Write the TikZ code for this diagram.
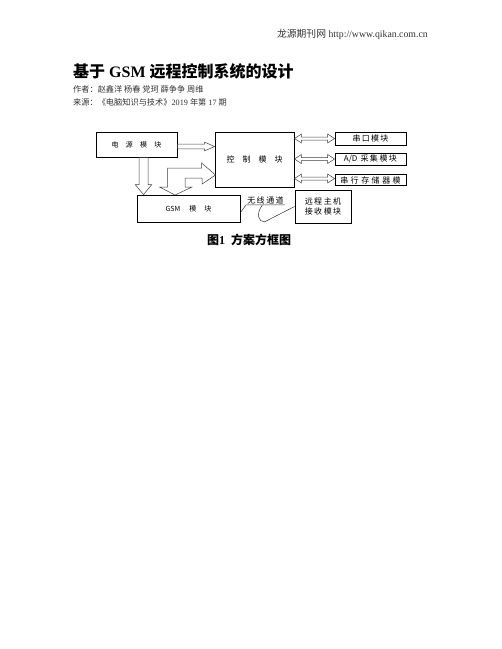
\documentclass[tikz,border=0pt]{standalone}
\usepackage{fontspec}
\setmainfont{Liberation Serif}
\newfontfamily\cjk{Noto Sans CJK SC}
\usetikzlibrary{calc}
\usetikzlibrary{positioning}

% hollow block arrow: tail, tip, half shaft, half head, head length
\newcommand{\blockarrow}[5]{%
  \coordinate (ba1) at #1; \coordinate (ba2) at #2;
  \coordinate (bah) at ($(ba2)!#5!(ba1)$);
  \draw[blockline] ($(ba1)!#3!90:(ba2)$) -- ($(bah)!#3!90:(ba2)$) -- ($(bah)!#4!90:(ba2)$) -- (ba2)
     -- ($(bah)!#4!-90:(ba2)$) -- ($(bah)!#3!-90:(ba2)$) -- ($(ba1)!#3!-90:(ba2)$) -- cycle;
}
% hollow arrow with two heads
\newcommand{\dblarrow}[5]{%
  \coordinate (da1) at #1; \coordinate (da2) at #2;
  \coordinate (dh1) at ($(da1)!#5!(da2)$); \coordinate (dh2) at ($(da2)!#5!(da1)$);
  \draw[blockline] (da1) -- ($(dh1)!#4!90:(da2)$) -- ($(dh1)!#3!90:(da2)$) -- ($(dh2)!#3!-90:(da1)$)
     -- ($(dh2)!#4!-90:(da1)$) -- (da2) -- ($(dh2)!#4!90:(da1)$) -- ($(dh2)!#3!90:(da1)$)
     -- ($(dh1)!#3!-90:(da2)$) -- ($(dh1)!#4!-90:(da2)$) -- cycle;
}

\tikzset{
  modbox/.style={draw, line width=0.9pt, inner sep=0pt, font=\cjk\fontsize{7}{8}\selectfont},
  blockline/.style={draw=black!75, line width=0.5pt},
  wire/.style={black!80, line width=0.5pt},
  pagetext/.style={anchor=west, inner sep=0pt, text=black!80}
}

\begin{document}
\begin{tikzpicture}[x=1pt, y=-1pt]
 \fill[white] (0,0) rectangle (502,649);
 \useasboundingbox (0,0) rectangle (502,649);

 %page head
 \node[anchor=east, inner sep=0pt, text=black!80, font=\fontsize{9.8}{12}\selectfont] (head) at (428,34)
      {{\cjk 龙源期刊网} http://www.qikan.com.cn};
 \node[pagetext, text=black, font=\fontsize{16}{18}\selectfont\bfseries] (title) at (73,71)
      {{\cjk 基于} GSM {\cjk 远程控制系统的设计}};
 \node[pagetext, font=\cjk\fontsize{8.2}{10}\selectfont] (authors) at (73,89) {作者：赵鑫洋 杨春 党珂 薛争争 周维};
 \node[pagetext, font=\fontsize{8.2}{10}\selectfont] (source) at (73,102)
      {{\cjk 来源：《电脑知识与技术》}2019 {\cjk 年第} 17 {\cjk 期}};

 %modules
 \node[modbox, minimum width=81, minimum height=25] (power) at (136.5,144.5)
      {电\hspace{7.3pt}源\hspace{7.3pt}模\hspace{7.3pt}块};
 \node[modbox, minimum width=79, minimum height=55, font=\cjk\fontsize{8}{9}\selectfont] (ctrl) at (254.5,159.5)
      {控\hspace{8pt}制\hspace{8pt}模\hspace{8pt}块};
 \node[modbox, minimum width=103, minimum height=27] (gsm) at (188.5,208.5)
      {GSM\hspace{9pt}模\hspace{8pt}块};
 \node[modbox, minimum width=56, minimum height=33, align=left, font=\cjk\fontsize{8}{10}\selectfont] (remote) at (323,206.5)
      {远\hspace{1.5pt}程\hspace{1.5pt}主\hspace{1.5pt}机\\接\hspace{1.5pt}收\hspace{1.5pt}模\hspace{1.5pt}块};
 \node[modbox, minimum width=71, minimum height=13, font=\cjk\fontsize{8}{9}\selectfont] (serial) at (370.5,138.5)
      {串\hspace{1.3pt}口\hspace{1.3pt}模\hspace{1.3pt}块};
 \node[modbox, minimum width=71, minimum height=12, font=\cjk\fontsize{8}{9}\selectfont] (ad) at (370.5,159)
      {A/D\hspace{3pt}采\hspace{1.5pt}集\hspace{1.5pt}模\hspace{1.5pt}块};
 \node[modbox, minimum width=71, minimum height=11, font=\cjk\fontsize{8}{9}\selectfont] (storage) at (370.5,180)
      {串\hspace{2.5pt}行\hspace{2.5pt}存\hspace{2.5pt}储\hspace{2.5pt}器\hspace{2.5pt}模};

 %block arrows
 \coordinate (pc) at ($(power.east)+(0,2)$);
 \blockarrow{(pc)}{(pc -| ctrl.west)}{2.4pt}{4.4pt}{10pt}
 \coordinate (pg) at ($(power.south)+(7,0)$);
 \blockarrow{(pg)}{(pg |- gsm.north)}{4.5pt}{8.3pt}{10pt}
 \dblarrow{(ctrl.east |- serial.west)}{(serial.west)}{1.5pt}{4.5pt}{7pt}
 \dblarrow{(ctrl.east |- ad.west)}{(ad.west)}{1.5pt}{4.5pt}{7pt}
 \coordinate (st) at ($(storage.west)+(0,-1.5)$);
 \dblarrow{(st -| ctrl.east)}{(st)}{1.5pt}{4.5pt}{7pt}

 %gsm <-> control
 \coordinate (tipg) at ($(gsm.north)+(-13.5,0.5)$);
 \coordinate (tipc) at ($(ctrl.west)+(1,15.5)$);
 \draw[blockline] (tipg) -- ++(17,-8) -- ++(-7,0) -- ++(0,-9) -- ++(17,0) -- ++(0,6) -- (tipc)
      -- ++(-14,-12) -- ++(0,5) -- ++(-34,0) -- ++(0,19) -- ++(-8,0) -- cycle;

 %wireless link
 \node[inner sep=1pt, font=\cjk\fontsize{8}{9}\selectfont] (wlabel) at (265.5,200)
      {无\hspace{1.5pt}线\hspace{1.5pt}通\hspace{1.5pt}道};
 \draw[wire] ($(gsm.east)+(0,4)$) -- (wlabel.south west) -- (wlabel.south east);
 \draw[wire] ($(wlabel.south)+(-3,0)$) .. controls +(-7,9) and +(-6,0) .. ($(wlabel.south)+(-1,17)$) -- (remote.west);

 %caption
 \node[font=\fontsize{12}{14}\selectfont\bfseries] (caption) at (249,240)
      {{\cjk 图}1\hspace{6pt}{\cjk 方案方框图}};
\end{tikzpicture}
\end{document}
